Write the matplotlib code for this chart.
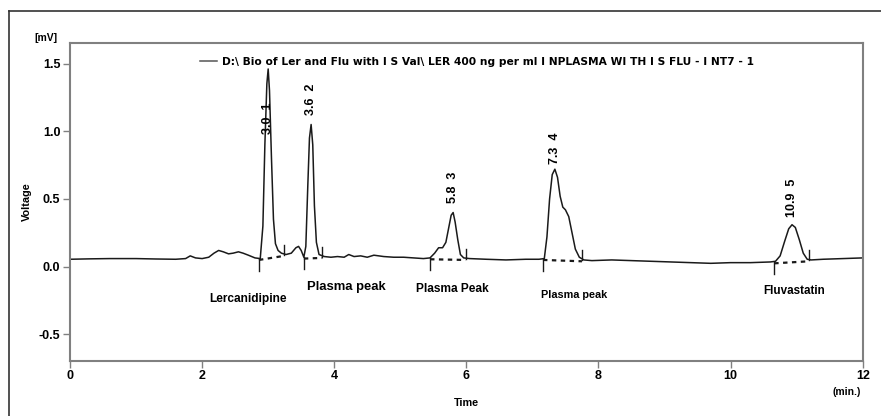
#!/usr/bin/env python3
"""Chromatogram: Lercanidipine / Fluvastatin in plasma, voltage vs time."""

import matplotlib

matplotlib.use("Agg")
import matplotlib.pyplot as plt
from matplotlib.lines import Line2D

# trace (time in min, voltage in mV)
TIME = [
    0.0, 0.3, 0.6, 1.0, 1.3, 1.6, 1.75, 1.82, 1.9, 2.0, 2.1, 2.18, 2.25, 2.32,
    2.4, 2.47, 2.55, 2.62, 2.7, 2.8, 2.88, 2.92, 2.95, 2.98, 3.0, 3.02, 3.05,
    3.08, 3.11, 3.15, 3.2, 3.27, 3.35, 3.42, 3.46, 3.5, 3.54, 3.57, 3.6, 3.625,
    3.65, 3.675, 3.7, 3.73, 3.77, 3.85, 3.95, 4.05, 4.15, 4.22, 4.3, 4.4, 4.5,
    4.6, 4.75, 4.9, 5.05, 5.2, 5.35, 5.45, 5.52, 5.58, 5.64, 5.69, 5.73, 5.77,
    5.8, 5.83, 5.87, 5.91, 5.96, 6.05, 6.3, 6.6, 6.9, 7.1, 7.18, 7.22, 7.26,
    7.3, 7.34, 7.38, 7.42, 7.46, 7.5, 7.55, 7.6, 7.65, 7.71, 7.78, 7.9, 8.2,
    8.5, 8.8, 9.1, 9.4, 9.7, 10.0, 10.3, 10.6, 10.68, 10.75, 10.82, 10.88,
    10.93, 10.98, 11.04, 11.1, 11.16, 11.22, 11.4, 11.7, 12.0,
]
VOLTAGE = [
    0.055, 0.058, 0.06, 0.06, 0.057, 0.055, 0.06, 0.08, 0.065, 0.06, 0.07,
    0.1, 0.12, 0.11, 0.095, 0.1, 0.11, 0.1, 0.085, 0.065, 0.06, 0.3, 0.9,
    1.35, 1.46, 1.3, 0.8, 0.35, 0.17, 0.12, 0.1, 0.09, 0.1, 0.14, 0.15,
    0.12, 0.07, 0.15, 0.6, 0.95, 1.05, 0.9, 0.45, 0.18, 0.09, 0.075, 0.07,
    0.075, 0.07, 0.09, 0.075, 0.08, 0.07, 0.085, 0.075, 0.07, 0.07, 0.065,
    0.06, 0.065, 0.1, 0.14, 0.14, 0.18, 0.28, 0.38, 0.4, 0.33, 0.2, 0.09,
    0.065, 0.06, 0.055, 0.05, 0.055, 0.055, 0.06, 0.22, 0.5, 0.68, 0.72,
    0.66, 0.52, 0.44, 0.42, 0.37, 0.25, 0.13, 0.07, 0.05, 0.045, 0.05, 0.045,
    0.04, 0.035, 0.03, 0.025, 0.03, 0.03, 0.035, 0.04, 0.08, 0.19, 0.28,
    0.31, 0.29, 0.2, 0.1, 0.055, 0.05, 0.055, 0.06, 0.065,
]

# integration marks: peak start / end (time, voltage at baseline)
PEAK_START_T = [2.86, 3.54, 5.45, 7.16, 10.66]
PEAK_START_V = [0.06, 0.07, 0.065, 0.06, 0.035]
PEAK_END_T = [3.24, 3.82, 5.99, 7.75, 11.19]
PEAK_END_V = [0.09, 0.075, 0.06, 0.05, 0.05]

# peak annotations (retention time label + peak number)
PEAK_T = [3.0, 3.65, 5.8, 7.34, 10.93]
PEAK_LABEL_V = [0.98, 1.12, 0.47, 0.76, 0.37]
PEAK_TEXT = ["3.0  1", "3.6  2", "5.8  3", "7.3  4", "10.9  5"]

# compound names under the trace
NAME_T = [2.70, 4.19, 5.79, 7.63, 10.96]
NAME_V = [-0.24, -0.147, -0.165, -0.206, -0.18]
NAMES = ["Lercanidipine", "Plasma peak", "Plasma Peak", "Plasma peak", "Fluvastatin"]
NAME_SIZES = [8.6, 9.4, 8.6, 7.8, 8.4]

X_TICKS = [0, 2, 4, 6, 8, 10, 12]
Y_TICKS = [-0.5, 0.0, 0.5, 1.0, 1.5]
LEGEND_TEXT = ("D:\\ Bio of Ler and Flu with I S Val\\ LER 400 ng per ml "
               "I NPLASMA WI TH I S FLU - I NT7 - 1")

W, H = 881, 416
FONT = ["Liberation Sans", "DejaVu Sans"]
plt.rcParams["font.family"] = FONT
plt.rcParams["font.weight"] = "bold"

fig = plt.figure(figsize=(W / 100, H / 100), dpi=100)
ax = fig.add_axes([70 / W, 1 - 360.7 / H, 792.7 / W, 318 / H])

ax.plot(TIME, VOLTAGE, color="#1a1a1a", linewidth=1.1, label=LEGEND_TEXT)

# dashed baselines and the start/end ticks
for t0, v0, t1, v1 in zip(PEAK_START_T, PEAK_START_V, PEAK_END_T, PEAK_END_V):
    ax.plot([t0, t1], [v0 - 0.01, v1 - 0.01], color="#1a1a1a",
            linewidth=1.6, linestyle=(0, (2, 2)))
    ax.plot([t0, t0], [v0, v0 - 0.09], color="#1a1a1a", linewidth=1.0)
    ax.plot([t1, t1], [v1, v1 + 0.07], color="#1a1a1a", linewidth=1.0)

for t, v, s in zip(PEAK_T, PEAK_LABEL_V, PEAK_TEXT):
    ax.text(t, v, s, rotation=90, ha="center", va="bottom", fontsize=9,
            fontweight="bold")

for t, v, s, fs in zip(NAME_T, NAME_V, NAMES, NAME_SIZES):
    ax.text(t, v, s, ha="center", va="center", fontsize=fs, fontweight="bold")

ax.set_xlim(0, 12)
ax.set_ylim(-0.694, 1.654)
ax.set_xticks(X_TICKS)
ax.set_yticks(Y_TICKS)
ax.set_xticklabels([str(v) for v in X_TICKS])
ax.set_yticklabels([f"{v:.1f}" for v in Y_TICKS])
ax.tick_params(direction="out", length=5, width=1, color="#808080",
               labelsize=9, pad=2)
for sp in ax.spines.values():
    sp.set_color("#808080")
    sp.set_linewidth(1.5)

ax.set_xlabel("Time", fontsize=7.8, fontweight="bold", labelpad=11)
ax.set_ylabel("Voltage", fontsize=7.8, fontweight="bold", labelpad=5)

leg = ax.legend(loc="center left", bbox_to_anchor=(130 / 792.7, (360.7 - 62) / 318),
                frameon=False, borderpad=0, borderaxespad=0, handlelength=1.6,
                handletextpad=0.5,
                prop={"family": "DejaVu Sans", "size": 7.7, "weight": "bold"})
leg.get_lines()[0].set_color("#555555")

fig.text(46 / W, 1 - 38 / H, "[mV]", ha="center", va="center", fontsize=7.5,
         fontweight="bold")
fig.text(847 / W, 1 - 392 / H, "(min.)", ha="center", va="center", fontsize=7.5,
         fontweight="bold")

# outer frame of the original screenshot (left and top edges)
fig.add_artist(Line2D([9 / W, 9 / W], [0, 1 - 11 / H], color="#333333", linewidth=1.2))
fig.add_artist(Line2D([9 / W, 1], [1 - 11 / H, 1 - 11 / H], color="#333333", linewidth=1.2))

fig.savefig("out.png", dpi=100)
